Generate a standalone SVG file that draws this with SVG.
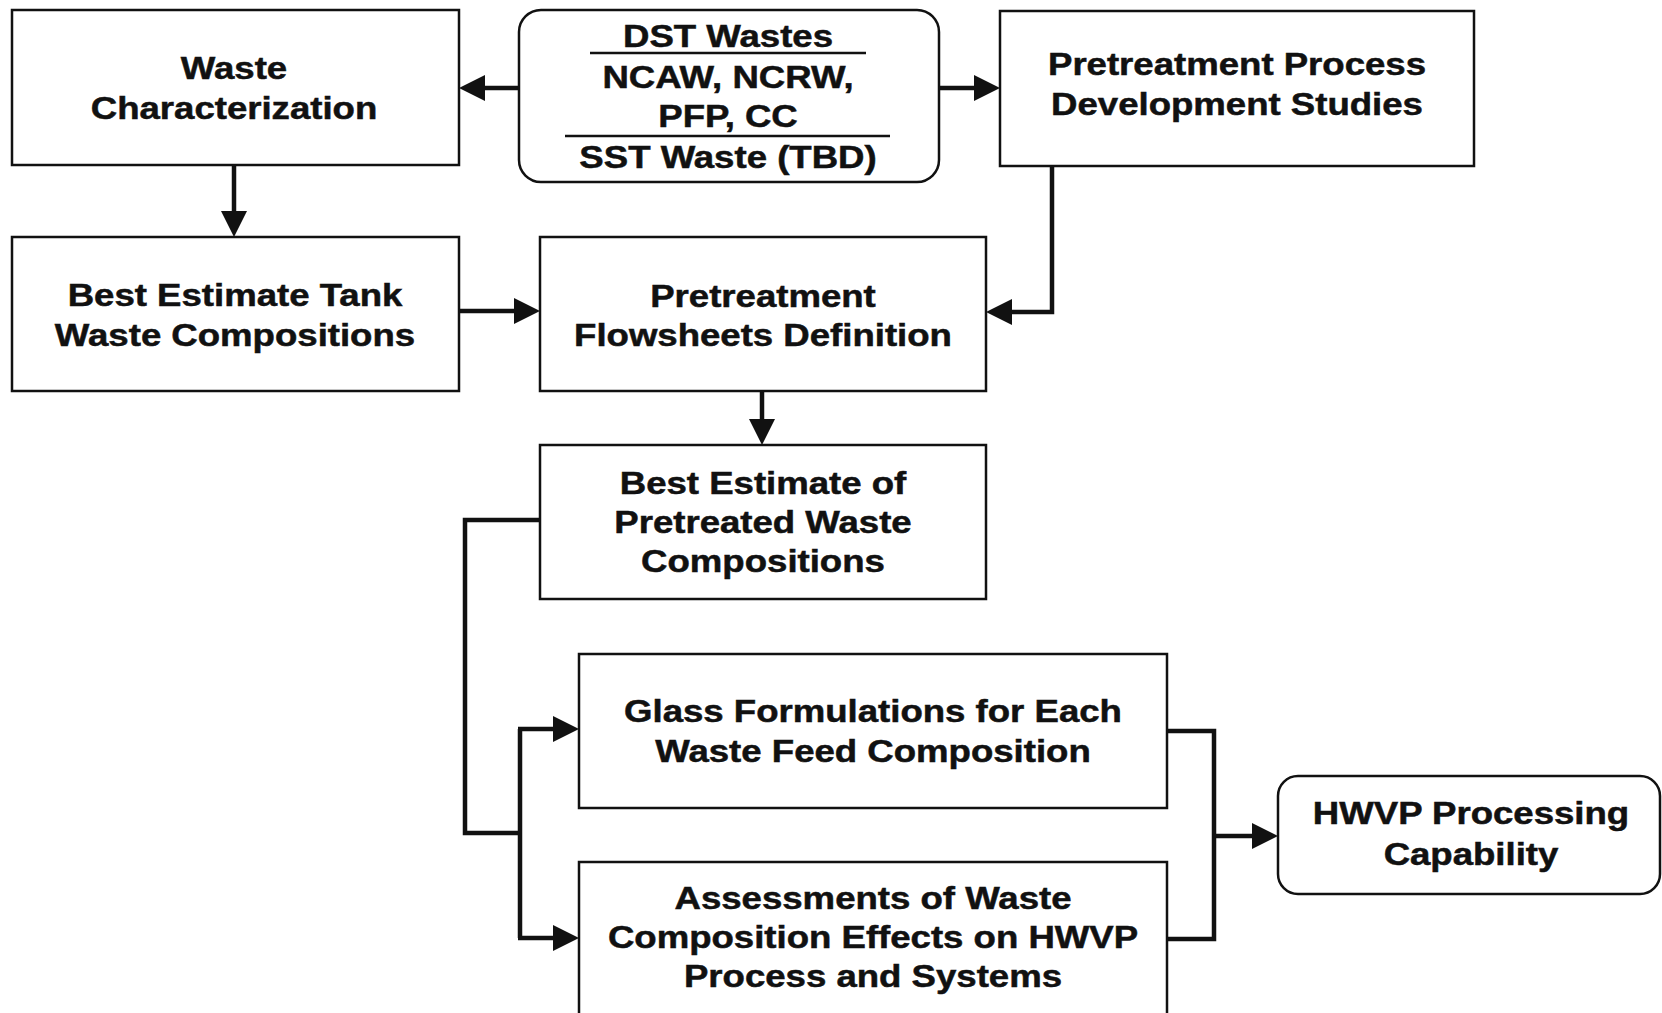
<svg xmlns="http://www.w3.org/2000/svg" width="1662" height="1013" viewBox="0 0 1662 1013">
  <style>
    .box { fill: #fff; stroke: #111; stroke-width: 2.5; }
    .wire { fill: none; stroke: #111; stroke-width: 4.5; stroke-linejoin: miter; }
    .rule { stroke: #111; stroke-width: 2.5; }
    .t { font-family: "Liberation Sans", Arial, Helvetica, sans-serif; font-weight: bold; font-size: 31px; text-anchor: middle; fill: #111; stroke: #111; stroke-width: 0.5; }
  </style>
  <defs>
    <marker id="arrow" markerUnits="userSpaceOnUse" markerWidth="27" markerHeight="26" refX="0" refY="13" orient="auto" overflow="visible">
      <path d="M0,0 L26,13 L0,26 Z" fill="#111"/>
    </marker>
  </defs>

  <rect width="1662" height="1013" fill="#fff"/>

  <!-- connectors -->
  <g id="connectors">
    <line class="wire" x1="519" y1="88" x2="485" y2="88" marker-end="url(#arrow)"/>
    <line class="wire" x1="939" y1="88" x2="974" y2="88" marker-end="url(#arrow)"/>
    <line class="wire" x1="234" y1="165" x2="234" y2="211" marker-end="url(#arrow)"/>
    <line class="wire" x1="459" y1="311" x2="514" y2="311" marker-end="url(#arrow)"/>
    <path class="wire" d="M1052,166 V312 H1012" marker-end="url(#arrow)"/>
    <line class="wire" x1="762" y1="391" x2="762" y2="419" marker-end="url(#arrow)"/>
    <path class="wire" d="M540,520 H465 V833 H520"/>
    <line class="wire" x1="520" y1="729" x2="520" y2="938"/>
    <line class="wire" x1="518" y1="729" x2="553" y2="729" marker-end="url(#arrow)"/>
    <line class="wire" x1="518" y1="938" x2="553" y2="938" marker-end="url(#arrow)"/>
    <path class="wire" d="M1167,731 H1214 V939 H1167"/>
    <line class="wire" x1="1214" y1="836" x2="1252" y2="836" marker-end="url(#arrow)"/>
  </g>

  <g id="waste-characterization">
    <rect class="box" x="12" y="10" width="447" height="155"/>
    <text class="t" transform="translate(234,0) scale(1.18,1)"><tspan x="0" y="79">Waste</tspan><tspan x="0" y="119">Characterization</tspan></text>
  </g>

  <g id="dst-wastes">
    <rect class="box" x="519" y="10" width="420" height="172" rx="22" ry="22"/>
    <line class="rule" x1="590" y1="53" x2="866" y2="53"/>
    <line class="rule" x1="565" y1="136" x2="890" y2="136"/>
    <text class="t" transform="translate(728,0) scale(1.18,1)"><tspan x="0" y="47">DST Wastes</tspan><tspan x="0" y="88">NCAW, NCRW,</tspan><tspan x="0" y="127">PFP, CC</tspan><tspan x="0" y="168">SST Waste (TBD)</tspan></text>
  </g>

  <g id="pretreatment-process-studies">
    <rect class="box" x="1000" y="11" width="474" height="155"/>
    <text class="t" transform="translate(1237,0) scale(1.18,1)"><tspan x="0" y="75">Pretreatment Process</tspan><tspan x="0" y="115">Development Studies</tspan></text>
  </g>

  <g id="best-estimate-tank">
    <rect class="box" x="12" y="237" width="447" height="154"/>
    <text class="t" transform="translate(235,0) scale(1.18,1)"><tspan x="0" y="306">Best Estimate Tank</tspan><tspan x="0" y="346">Waste Compositions</tspan></text>
  </g>

  <g id="pretreatment-flowsheets">
    <rect class="box" x="540" y="237" width="446" height="154"/>
    <text class="t" transform="translate(763,0) scale(1.18,1)"><tspan x="0" y="307">Pretreatment</tspan><tspan x="0" y="346">Flowsheets Definition</tspan></text>
  </g>

  <g id="best-estimate-pretreated">
    <rect class="box" x="540" y="445" width="446" height="154"/>
    <text class="t" transform="translate(763,0) scale(1.18,1)"><tspan x="0" y="494">Best Estimate of</tspan><tspan x="0" y="533">Pretreated Waste</tspan><tspan x="0" y="572">Compositions</tspan></text>
  </g>

  <g id="glass-formulations">
    <rect class="box" x="579" y="654" width="588" height="154"/>
    <text class="t" transform="translate(873,0) scale(1.18,1)"><tspan x="0" y="722">Glass Formulations for Each</tspan><tspan x="0" y="762">Waste Feed Composition</tspan></text>
  </g>

  <g id="composition-assessments">
    <rect class="box" x="579" y="862" width="588" height="160"/>
    <text class="t" transform="translate(873,0) scale(1.18,1)"><tspan x="0" y="909">Assessments of Waste</tspan><tspan x="0" y="948">Composition Effects on HWVP</tspan><tspan x="0" y="987">Process and Systems</tspan></text>
  </g>

  <g id="hwvp-capability">
    <rect class="box" x="1278" y="776" width="382" height="118" rx="20" ry="20"/>
    <text class="t" transform="translate(1471,0) scale(1.18,1)"><tspan x="0" y="824">HWVP Processing</tspan><tspan x="0" y="865">Capability</tspan></text>
  </g>
</svg>
